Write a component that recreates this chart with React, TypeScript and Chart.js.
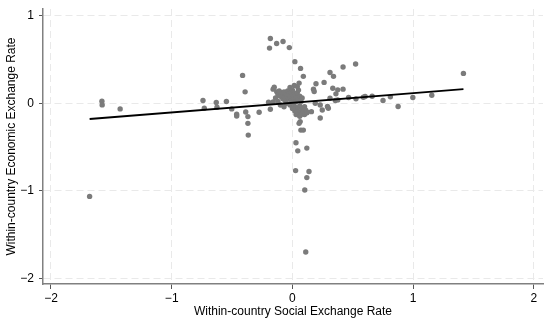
import React, { useEffect, useRef } from "react";
import { Chart, registerables } from "chart.js";

Chart.register(...registerables);

// Scatter data: within-country social (x) vs economic (y) exchange rate
const socialX = [
  -1.68, -1.578, -1.576, -1.427, -0.741, -0.73, -0.631, -0.625, -0.547, -0.503,
  -0.462, -0.462, -0.413, -0.392, -0.387, -0.369, -0.369, -0.366, -0.276, -0.183,
  -0.198, -0.16, -0.16, -0.151, -0.183, -0.19, -0.131, -0.078, -0.026, 0.02,
  0.067, 0.09, 0.055, 0.015, 0.523, 0.419, 0.311, 0.34, 0.262, 0.195,
  0.174, 0.18, 0.375, 0.419, 0.334, 0.36, 0.311, 0.355, 0.375, 0.465,
  0.526, 0.587, 0.602, 0.66, 0.75, 0.811, 0.875, 0.997, 1.154, 1.416,
  0.189, 0.23, 0.247, 0.297, 0.29, 0.23, 0.157, 0.119, 0.064, 0.055,
  0.07, 0.09, 0.029, 0.044, 0.119, 0.026, 0.137, 0.119, 0.102, 0.11,
  -0.13, -0.12, -0.11, -0.1, -0.09, -0.08, -0.08, -0.07, -0.06, -0.06,
  -0.05, -0.05, -0.04, -0.04, -0.03, -0.03, -0.02, -0.02, -0.01, -0.01,
  0.0, 0.0, 0.01, 0.01, 0.02, 0.02, 0.03, 0.03, 0.04, 0.04,
  0.05, 0.05, 0.06, 0.06, 0.07, 0.07, 0.08, 0.08, 0.09, 0.1,
  0.1, 0.11, -0.1, -0.12, -0.07, 0.03, 0.02, 0.06, 0.12, -0.14,
  0.0, 0.05, -0.02, 0.04,
];
const economicY = [
  -1.065, 0.023, -0.019, -0.065, 0.031, -0.057, 0.008, -0.046, 0.019, -0.065,
  -0.126, -0.146, 0.318, 0.13, -0.1, -0.153, -0.23, -0.364, -0.103, -0.069,
  0.011, 0.015, 0.161, 0.184, 0.74, 0.63, 0.682, 0.705, 0.636, 0.475,
  0.398, 0.307, 0.23, 0.204, 0.448, 0.414, 0.352, 0.307, 0.238, 0.222,
  0.161, 0.134, 0.153, 0.161, 0.172, 0.107, 0.057, 0.031, 0.038, 0.065,
  0.05, 0.069, 0.077, 0.08, 0.031, 0.073, -0.038, 0.065, 0.092, 0.341,
  0.0, -0.02, -0.077, -0.057, -0.038, -0.169, -0.096, -0.1, -0.21, -0.23,
  -0.307, -0.307, -0.452, -0.544, -0.513, -0.77, -0.78, -0.85, -0.992, -1.7,
  0.13, 0.1, 0.14, 0.08, 0.12, 0.05, 0.1, 0.13, 0.07, 0.03,
  0.11, 0.0, 0.08, 0.14, 0.05, 0.1, -0.02, 0.07, 0.12, 0.03,
  0.09, 0.15, 0.05, 0.0, 0.11, -0.04, 0.07, 0.02, -0.06, 0.12,
  0.04, -0.1, 0.08, -0.03, -0.13, 0.02, -0.07, 0.06, -0.1, -0.04,
  -0.13, -0.08, -0.02, 0.02, -0.04, -0.13, -0.09, -0.15, -0.11, 0.06,
  -0.06, 0.15, 0.18, 0.19,
];

// Linear fit line endpoints
const fitX = [-1.68, 1.416];
const fitY = [-0.18, 0.161];

const xTicks = [-2, -1, 0, 1, 2];
const yTicks = [-2, -1, 0, 1];
const xTitle = "Within-country Social Exchange Rate";
const yTitle = "Within-country Economic Exchange Rate";

const FONT = "'Liberation Sans', Arial, Helvetica, sans-serif";

export default function App() {
  const ref = useRef<HTMLCanvasElement | null>(null);

  useEffect(() => {
    if (!ref.current) return;
    const fmt = (v: any) => String(v).replace("-", "\u2212");
    const chart = new Chart(ref.current, {
      type: "scatter",
      data: {
        datasets: [
          {
            label: "fit",
            data: fitX.map((x, i) => ({ x, y: fitY[i] })),
            showLine: true,
            borderColor: "#000000",
            borderWidth: 1.8,
            pointRadius: 0,
            order: 0,
          },
          {
            label: "countries",
            data: socialX.map((x, i) => ({ x, y: economicY[i] })),
            showLine: false,
            backgroundColor: "#7b7b7b",
            borderWidth: 0,
            pointRadius: 2.7,
            order: 1,
          },
        ],
      },
      options: {
        responsive: false,
        animation: false,
        devicePixelRatio: 1,
        layout: { padding: { top: 9, right: 7, left: 0, bottom: 0 } },
        plugins: {
          legend: { display: false },
          tooltip: { enabled: false },
        },
        scales: {
          x: {
            type: "linear",
            position: "bottom",
            min: -2.066,
            max: 2.075,
            afterBuildTicks: (s: any) => {
              s.ticks = xTicks.map((v) => ({ value: v }));
            },
            afterFit: (s: any) => {
              s.height = 41;
              s.paddingLeft = 0;
              s.paddingRight = 0;
            },
            ticks: {
              autoSkip: false,
              maxRotation: 0,
              padding: 2,
              color: "#000",
              font: { family: FONT, size: 12 },
              callback: (v: any) => fmt(v),
            },
            grid: {
              color: "#e9e9e9",
              lineWidth: 1,
              drawTicks: true,
              tickLength: 5,
              tickColor: "#555",
              tickWidth: 1,
            },
            border: { display: true, color: "#808080", width: 1.5, dash: [7, 4] },
            title: {
              display: true,
              text: xTitle,
              color: "#000",
              font: { family: FONT, size: 12 },
              padding: { top: 0, bottom: 6 },
            },
          },
          y: {
            type: "linear",
            position: "left",
            min: -2.066,
            max: 1.077,
            afterBuildTicks: (s: any) => {
              s.ticks = yTicks.map((v) => ({ value: v }));
            },
            afterFit: (s: any) => {
              s.width = 43;
              s.paddingTop = 0;
              s.paddingBottom = 0;
            },
            ticks: {
              autoSkip: false,
              padding: 5,
              color: "#000",
              font: { family: FONT, size: 12 },
              callback: (v: any) => fmt(v),
            },
            grid: {
              color: "#e9e9e9",
              lineWidth: 1,
              drawTicks: true,
              tickLength: 4,
              tickColor: "#555",
              tickWidth: 1,
            },
            border: { display: true, color: "#808080", width: 1.5, dash: [7, 4] },
            title: {
              display: true,
              text: yTitle,
              color: "#000",
              font: { family: FONT, size: 12 },
              padding: { top: 4, bottom: 0 },
            },
          },
        },
      },
    });
    return () => chart.destroy();
  }, []);

  return (
    <div
      style={{
        position: "fixed",
        left: 0,
        top: 0,
        width: 550,
        height: 325,
        background: "#ffffff",
      }}
    >
      <canvas ref={ref} width={550} height={325} style={{ display: "block" }} />
    </div>
  );
}
